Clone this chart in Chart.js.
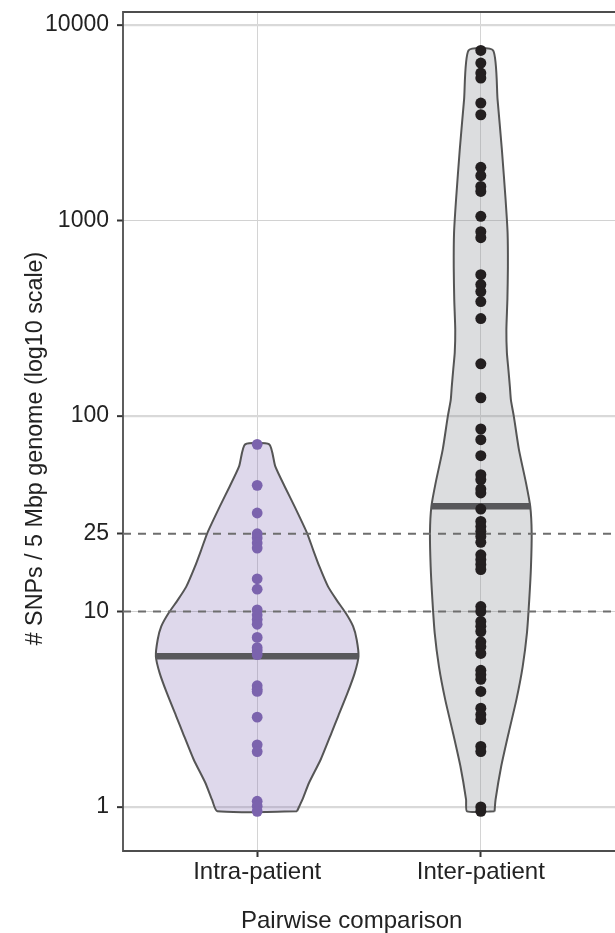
<!DOCTYPE html>
<html><head><meta charset="utf-8">
<script src="https://cdn.jsdelivr.net/npm/chart.js@4.4.0/dist/chart.umd.min.js"></script>
<style>html,body{margin:0;padding:0;background:#fff;}#wrap{width:615px;height:933px;position:relative;}</style>
</head><body><div id="wrap"><canvas id="c" width="615" height="933"></canvas></div>
<script>
// ---- data ----
const categories = ['Intra-patient', 'Inter-patient'];
const yTicks = [1, 10, 25, 100, 1000, 10000];
const thresholds = [10, 25];
const intraValues = [71.6, 44.2, 31.9, 25.0, 23.8, 22.4, 21.1, 14.7, 13.0, 10.2, 9.6, 9.1, 8.6, 7.37, 6.53, 6.3, 6.02, 4.17, 4.0, 3.90, 2.88, 2.08, 1.92, 1.07, 1.01, 0.95];
const interValues = [7413, 6390, 5680, 5350, 3990, 3475, 1870, 1695, 1494, 1409, 1050, 876, 817, 528, 470, 433, 385, 315, 185, 124, 85.8, 75.7, 62.7, 50.1, 47.2, 42.3, 40.4, 33.4, 28.9, 27.2, 25.7, 24.2, 22.6, 19.5, 18.4, 17.4, 16.4, 10.6, 10.0, 8.9, 8.4, 7.9, 7.0, 6.6, 6.1, 5.0, 4.75, 4.5, 3.9, 3.2, 2.97, 2.8, 2.04, 1.92, 1.0, 0.95];
const intraMedian = 5.9;
const interMedian = 34.5;
// violin outlines: value levels (bottom to top) and half-widths in category units
const intraViolinY = [0.95, 1.09, 1.33, 1.75, 2.39, 2.91, 3.83, 4.84, 5.89, 7.17, 8.39, 9.82, 11.5, 13.4, 17.0, 20.7, 25.2, 34.5, 43.6, 55.2, 71.6];
const intraViolinW = [0.178, 0.202, 0.232, 0.284, 0.332, 0.362, 0.404, 0.436, 0.453, 0.445, 0.429, 0.396, 0.354, 0.317, 0.278, 0.250, 0.223, 0.167, 0.123, 0.081, 0.054];
const interViolinY = [0.95, 1.09, 1.61, 2.40, 3.54, 5.21, 7.78, 11.5, 16.9, 25.3, 34.4, 45.6, 67.3, 99, 121, 141, 173, 211, 276, 393, 580, 865, 1277, 2302, 4150, 7413];
const interViolinW = [0.0614, 0.0659, 0.0910, 0.1247, 0.1592, 0.1870, 0.2063, 0.2166, 0.2242, 0.2274, 0.2211, 0.2018, 0.1704, 0.1480, 0.1345, 0.1300, 0.1233, 0.1166, 0.1143, 0.1188, 0.1211, 0.1197, 0.1108, 0.0942, 0.0749, 0.0552];
const xTitle = 'Pairwise comparison';
const yTitle = '# SNPs / 5 Mbp genome (log10 scale)';

// ---- helpers ----
function violinShape(center, ys, ws) {
  const right = ys.map((v, i) => ({x: center + ws[i], y: v}));
  const left = ys.map((v, i) => ({x: center - ws[i], y: v})).reverse();
  const pts = right.concat(left);
  pts.push(pts[0]);
  return pts;
}
function halfWidthAt(ys, ws, v) {
  const lv = Math.log10(v);
  for (let i = 0; i < ys.length - 1; i++) {
    const a = Math.log10(ys[i]), b = Math.log10(ys[i + 1]);
    if (lv >= a && lv <= b) return ws[i] + (ws[i + 1] - ws[i]) * (lv - a) / (b - a);
  }
  return ws[0];
}
function medianLine(center, ys, ws, m) {
  const w = halfWidthAt(ys, ws, m);
  return [{x: center - w, y: m}, {x: center + w, y: m}];
}
const FONT = "'Liberation Sans', Arial, Helvetica, sans-serif";

const framePlugin = {
  id: 'frame',
  beforeDatasetsDraw(chart) {
    const {ctx, chartArea: a} = chart;
    ctx.save();
    ctx.strokeStyle = '#4d4d4d';
    ctx.lineWidth = 1.8;
    ctx.beginPath();
    ctx.moveTo(a.right + 2, a.top);
    ctx.lineTo(a.left, a.top);
    ctx.lineTo(a.left, a.bottom);
    ctx.lineTo(a.right + 2, a.bottom);
    ctx.stroke();
    ctx.restore();
  },
  afterDraw(chart) {
    const {ctx} = chart;
    ctx.save();
    ctx.fillStyle = '#222';
    ctx.textAlign = 'center';
    ctx.textBaseline = 'alphabetic';
    ctx.font = '24px ' + FONT;
    ctx.fillText(xTitle, 351.7, 927.5);
    ctx.translate(41.5, 448.5);
    ctx.rotate(-Math.PI / 2);
    ctx.font = '23.3px ' + FONT;
    ctx.fillText(yTitle, 0, 0);
    ctx.restore();
  }
};

const datasets = [
  {label: 'intra points', data: intraValues.map(v => ({x: 1, y: v})), showLine: false,
   pointRadius: 5.4, pointBackgroundColor: '#7b63ad', pointBorderWidth: 0, order: 0},
  {label: 'inter points', data: interValues.map(v => ({x: 2, y: v})), showLine: false,
   pointRadius: 5.5, pointBackgroundColor: '#231f20', pointBorderWidth: 0, order: 0},
  {label: 'intra median', data: medianLine(1, intraViolinY, intraViolinW, intraMedian), showLine: true,
   borderColor: '#58585b', borderWidth: 6.5, pointRadius: 0, borderCapStyle: 'butt', order: 1},
  {label: 'inter median', data: medianLine(2, interViolinY, interViolinW, interMedian), showLine: true,
   borderColor: '#58585b', borderWidth: 6.5, pointRadius: 0, borderCapStyle: 'butt', order: 1},
].concat(thresholds.map(t => ({
  label: 'threshold ' + t, data: [{x: 0.4, y: t}, {x: 2.6, y: t}], showLine: true,
  borderColor: '#6e6e6e', borderWidth: 2, borderDash: [8, 7], pointRadius: 0, order: 2
}))).concat([
  {label: 'intra violin', data: violinShape(1, intraViolinY, intraViolinW), showLine: true, fill: 'shape',
   backgroundColor: 'rgba(126,104,178,0.26)', borderColor: '#555555', borderWidth: 2, pointRadius: 0,
   tension: 0.2, order: 3},
  {label: 'inter violin', data: violinShape(2, interViolinY, interViolinW), showLine: true, fill: 'shape',
   backgroundColor: 'rgba(140,142,148,0.30)', borderColor: '#555555', borderWidth: 2, pointRadius: 0,
   tension: 0.2, order: 3}
]);

new Chart(document.getElementById('c'), {
  type: 'scatter',
  data: {datasets},
  plugins: [framePlugin],
  options: {
    responsive: false,
    animation: false,
    devicePixelRatio: 1,
    layout: {autoPadding: false, padding: {top: 12, left: 0, right: 0, bottom: 0}},
    plugins: {legend: {display: false}, tooltip: {enabled: false}},
    scales: {
      x: {
        type: 'linear', min: 0.4, max: 2.6,
        afterBuildTicks: s => { s.ticks = [{value: 1}, {value: 2}]; },
        afterFit: s => { s.height = 82; s.paddingLeft = 0; s.paddingRight = 0; },
        ticks: {callback: v => categories[Math.round(v) - 1], font: {family: FONT, size: 24}, color: '#222', padding: 1, maxRotation: 0, autoSkip: false},
        grid: {color: '#d4d4d4', lineWidth: 1, tickColor: '#333', tickLength: 6, tickWidth: 2},
        border: {display: false}
      },
      y: {
        type: 'logarithmic', min: 0.5955, max: 11656,
        afterBuildTicks: s => { s.ticks = yTicks.map(v => ({value: v})); },
        afterFit: s => { s.width = 123; s.paddingTop = 0; s.paddingBottom = 0; },
        ticks: {callback: v => String(v), font: {family: FONT, size: 23}, color: '#222', padding: 8, autoSkip: false},
        grid: {
          color: c => { const v = c.tick && c.tick.value; return v === 25 ? 'rgba(0,0,0,0)' : ([1, 100, 10000].includes(v) ? '#d9d9d9' : '#d2d2d2'); },
          lineWidth: c => { const v = c.tick && c.tick.value; return [1, 100, 10000].includes(v) ? 2.3 : 1; },
          tickColor: '#333', tickLength: 6, tickWidth: 2
        },
        border: {display: false}
      }
    }
  }
});
</script></body></html>
